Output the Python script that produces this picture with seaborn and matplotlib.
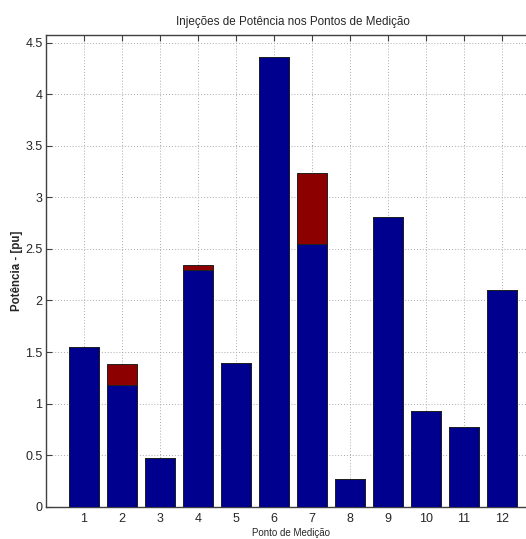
import matplotlib
matplotlib.use("Agg")
import matplotlib.pyplot as plt
import seaborn as sns
import pandas as pd
import numpy as np

pontos = [1, 2, 3, 4, 5, 6, 7, 8, 9, 10, 11, 12]
base = [1.55, 1.18, 0.475, 2.30, 1.39, 4.36, 2.55, 0.27, 2.81, 0.925, 0.776, 2.10]
extra = [0.0, 0.20, 0.0, 0.044, 0.0, 0.0, 0.69, 0.0, 0.0, 0.0, 0.0, 0.0]
yticks = [0, 0.5, 1, 1.5, 2, 2.5, 3, 3.5, 4, 4.5]
ytick_labels = ["0", "0.5", "1", "1.5", "2", "2.5", "3", "3.5", "4", "4.5"]

df = pd.DataFrame({"ponto": pontos, "base": base,
                   "total": np.array(base) + np.array(extra)})

sns.set_style("white")
plt.rcParams['font.family'] = ['Liberation Sans', 'DejaVu Sans']

fig = plt.figure(figsize=(5.26, 5.39), dpi=100)
ax = fig.add_axes([46/526, 1 - 506.7/539, (540 - 46)/526, (506.7 - 35)/539])

blue = (0, 0, 0.5625)
red = (0.55, 0, 0)

sns.barplot(data=df, x="ponto", y="total", native_scale=True, width=0.8,
            color=red, saturation=1, edgecolor="#202020", linewidth=0.7, ax=ax, zorder=3)
sns.barplot(data=df, x="ponto", y="base", native_scale=True, width=0.8,
            color=blue, saturation=1, edgecolor="#202020", linewidth=0.7, ax=ax, zorder=3)

ax.set_xlim(0, 13)
ax.set_ylim(0, 4.575)
ax.set_xticks(pontos)
ax.set_xticklabels([str(p) for p in pontos])
ax.set_yticks(yticks)
ax.set_yticklabels(ytick_labels)

ax.grid(True, linestyle=(0, (1, 2)), color="#aaaaaa", linewidth=0.7, zorder=0)
ax.set_axisbelow(True)

for s in ["left", "top", "bottom"]:
    ax.spines[s].set_visible(True)
    ax.spines[s].set_color("#404040")
    ax.spines[s].set_linewidth(1.0)
ax.spines["right"].set_visible(False)

ax.tick_params(axis="both", direction="in", length=4, width=0.8, color="#404040",
               labelsize=9, top=True, left=True, bottom=True)
ax.tick_params(axis="x", pad=4.5)
ax.tick_params(axis="y", pad=2.5)

ax.set_title("Injeções de Potência nos Pontos de Medição", fontsize=8.4, pad=7.5)
ax.set_xlabel("Ponto de Medição", fontsize=7)
ax.xaxis.set_label_coords(0.495, -0.045)
ax.set_ylabel("Potência - [pu]", fontsize=8.3, fontweight="bold")
ax.yaxis.set_label_coords(-0.047, 0.5)

fig.savefig("out.png", dpi=100)
